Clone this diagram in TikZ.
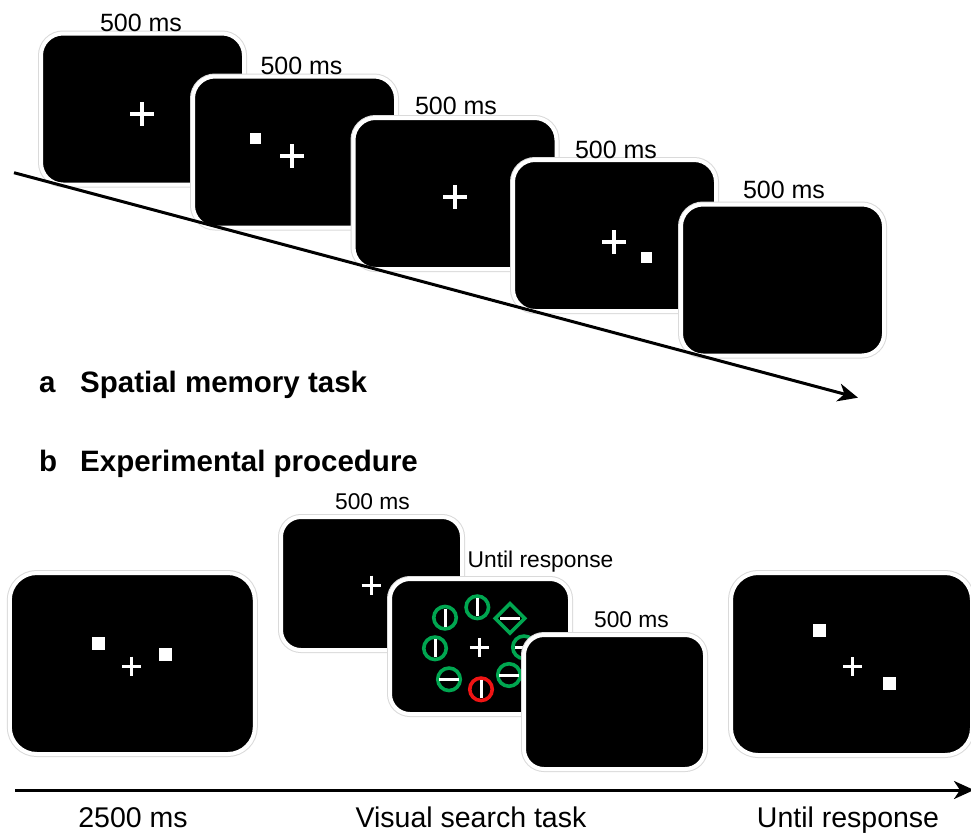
\documentclass[tikz,border=0pt]{standalone}
\usepackage{fontspec}
\setmainfont{Liberation Sans}
\usetikzlibrary{arrows.meta,shapes.geometric}
\definecolor{sgreen}{RGB}{0,166,80}
\definecolor{sred}{RGB}{240,20,20}
\definecolor{rim}{RGB}{218,218,218}
\begin{document}
\begin{tikzpicture}[x=1pt,y=-1pt,
  screen/.style={rectangle, rounded corners=#1, fill=black, draw=white, line width=4pt,
    inner sep=0pt, outer sep=0pt, preaction={draw=rim, line width=6pt}},
  screen/.default=22pt,
  topscr/.style={screen=22pt, minimum width=203pt, minimum height=151pt},
  bigscr/.style={screen=27pt, minimum width=245pt, minimum height=181pt},
  smallscr/.style={screen=20pt, minimum width=181pt, minimum height=134pt},
  tsq/.style={rectangle, fill=white, inner sep=0pt, minimum size=11pt},
  bsq/.style={rectangle, fill=white, inner sep=0pt, minimum size=13pt},
  gring/.style={circle, draw=sgreen, line width=3.6pt, inner sep=0pt, minimum size=22.5pt},
  rring/.style={gring, draw=sred},
  gdia/.style={diamond, draw=sgreen, line width=3.6pt, inner sep=0pt, minimum width=31pt, minimum height=31pt},
  bar/.style={draw=white, line width=3pt},
  axis/.style={draw=black, line width=3pt, -{Stealth[length=20pt, width=18pt, inset=6pt]}},
  lt/.style={font=\fontsize{25}{30}\selectfont, inner sep=0pt, anchor=base},
  ls/.style={font=\fontsize{22.8}{27}\selectfont, inner sep=0pt, anchor=base},
  la/.style={font=\fontsize{28.5}{34}\selectfont, inner sep=0pt, anchor=base},
  ttl/.style={font=\fontsize{29.5}{36}\selectfont\bfseries, inner sep=0pt, anchor=base west},
  bigfix/.pic={\draw[white, line width=4pt] (-12,0) -- (12,0) (0,-12) -- (0,12);},
  smallfix/.pic={\draw[white, line width=3pt] (-9.5,0) -- (9.5,0) (0,-9.5) -- (0,9.5);}
]
\clip (0,0) rectangle (971,836);
\fill[white] (0,0) rectangle (971,836);

% ---------- panel a ----------
\node[topscr] (s1) at (142.5,109) {};
\pic at (142,114) {bigfix};
\node[topscr] (s2) at (294.5,152) {};
\node[tsq] (q2) at (255,138) {};
\pic at (292,156) {bigfix};
\node[topscr] (s3) at (455,193.5) {};
\pic at (455,197) {bigfix};
\node[topscr] (s4) at (614.5,235.5) {};
\pic at (614,242) {bigfix};
\node[tsq] (q4) at (646,257) {};
\node[topscr] (s5) at (782.5,280) {};

\node[lt] (l1) at (141,31) {500 ms};
\node[lt] (l2) at (301.5,74) {500 ms};
\node[lt] (l3) at (456,114) {500 ms};
\node[lt] (l4) at (616,158) {500 ms};
\node[lt] (l5) at (784,198) {500 ms};

\coordinate (ta0) at (14,172.7);
\coordinate (ta1) at (858,397.7);
\draw[axis] (ta0) -- (ta1);

\node[ttl] (pa) at (39,392) {a};
\node[ttl] (pat) at (80,392) {Spatial memory task};
\node[ttl] (pb) at (39,471) {b};
\node[ttl] (pbt) at (80,471) {Experimental procedure};

% ---------- panel b ----------
\node[bigscr] (sa) at (132.3,663.5) {};
\node[bsq] (qa1) at (98.3,643.3) {};
\node[bsq] (qa2) at (165.8,654) {};
\pic at (131.7,666) {smallfix};

\node[smallscr, minimum width=181pt, minimum height=133pt] (sb) at (371.5,583.5) {};
\pic at (371,585) {smallfix};

\node[smallscr, minimum width=180pt, minimum height=135pt] (sc) at (480,646.5) {};
\node[gring] (c1) at (445,617.7) {};
\node[gring] (c2) at (477.3,607.3) {};
\node[gdia] (d3) at (510,618.3) {};
\node[gring] (c4) at (435,648.3) {};
\node[gring] (c5) at (524,647.3) {};
\node[gring] (c6) at (449,679.3) {};
\node[rring] (c7) at (481,689.3) {};
\node[gring] (c8) at (509,675) {};
\draw[bar] ([yshift=-9pt]c1.center) -- ([yshift=9pt]c1.center);
\draw[bar] ([yshift=-9pt]c2.center) -- ([yshift=9pt]c2.center);
\draw[bar] ([xshift=-10pt]d3.center) -- ([xshift=10pt]d3.center);
\draw[bar] ([yshift=-9pt]c4.center) -- ([yshift=9pt]c4.center);
\draw[bar] ([xshift=-9pt]c5.center) -- ([xshift=9pt]c5.center);
\draw[bar] ([xshift=-10pt]c6.center) -- ([xshift=10pt]c6.center);
\draw[bar] ([yshift=-9pt]c7.center) -- ([yshift=9pt]c7.center);
\draw[bar] ([xshift=-10pt]c8.center) -- ([xshift=10pt]c8.center);
\pic at (479.3,647.3) {smallfix};

\node[smallscr, minimum width=181pt, minimum height=134pt] (sd) at (614.5,702) {};

\node[bigscr, minimum width=241pt, minimum height=182pt] (se) at (851.5,664) {};
\node[bsq] (qe1) at (819.5,630.8) {};
\node[bsq] (qe2) at (889,683.3) {};
\pic at (852.7,666.7) {smallfix};

\node[ls] (lb) at (372.5,509) {500 ms};
\node[ls] (lc) at (540.5,567) {Until response};
\node[ls] (ld) at (631.5,627) {500 ms};

\coordinate (ba0) at (15,790);
\coordinate (ba1) at (974,790);
\draw[axis] (ba0) -- (ba1);

\node[la] (x1) at (133,827) {2500 ms};
\node[la] (x2) at (471,827) {Visual search task};
\node[la] (x3) at (848,827) {Until response};
\end{tikzpicture}
\end{document}
